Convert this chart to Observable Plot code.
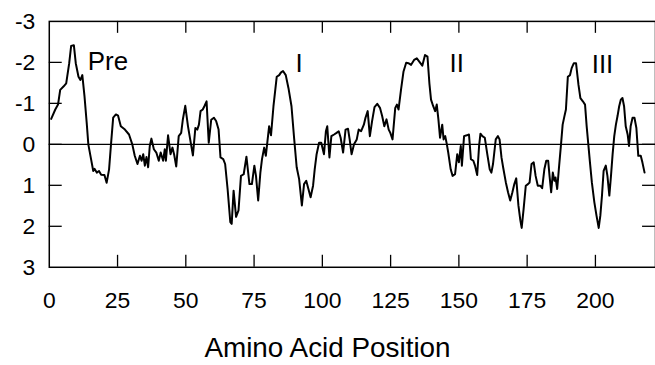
<!DOCTYPE html>
<html><head><meta charset="utf-8">
<script src="https://cdn.jsdelivr.net/npm/d3@7"></script>
<script src="https://cdn.jsdelivr.net/npm/@observablehq/plot@0.6"></script>
<style>
html,body{margin:0;padding:0;background:#fff;overflow:hidden;width:655px;height:365px}
#chart svg{display:block}
</style>
</head><body><div id="chart"></div>
<script>
const positions = [0.7,2.2,3.2,4.0,5.2,6.2,7.3,8.0,9.0,9.7,10.7,11.4,12.1,12.9,13.7,14.3,15.3,16.1,16.6,17.4,18.2,19.0,20.2,21.0,21.9,22.6,23.4,24.4,25.2,26.2,27.7,29.2,30.4,31.3,32.3,33.2,33.8,34.4,35.0,35.6,36.2,36.8,37.4,38.3,39.2,40.1,40.8,41.7,42.3,42.7,43.5,44.4,45.1,45.7,46.5,47.4,48.3,48.9,49.8,50.8,51.6,52.6,53.5,54.2,54.8,55.4,56.2,56.8,57.6,58.4,59.3,60.3,61.1,62.0,62.7,63.7,64.4,65.3,66.3,66.8,67.5,68.4,69.3,70.2,71.2,72.2,73.3,74.2,75.1,75.7,76.5,77.3,77.9,78.7,79.3,79.9,80.5,81.2,82.1,83.3,84.2,84.8,85.6,86.6,87.6,88.7,89.7,90.6,91.5,92.5,93.3,94.1,94.9,95.7,96.6,97.2,97.9,98.8,99.6,100.6,101.3,101.8,102.6,103.3,104.3,105.2,106.0,106.7,107.6,108.5,109.4,110.0,110.7,111.6,112.6,113.3,114.2,115.2,115.8,116.6,117.4,118.2,119.1,120.1,121.1,121.9,122.7,123.5,124.3,124.9,125.7,126.7,127.3,127.9,128.8,129.7,130.7,131.5,132.5,133.6,134.6,135.5,136.6,137.6,138.5,139.2,139.8,140.6,141.3,141.9,142.5,143.1,143.9,144.4,145.0,145.6,146.1,147.0,147.7,148.6,149.4,150.0,150.7,151.1,151.9,152.9,153.7,154.4,155.3,155.9,156.7,157.4,157.9,158.6,159.5,160.4,161.3,161.9,162.5,163.5,164.3,164.9,165.6,166.2,167.2,168.0,168.8,169.6,170.3,171.0,171.8,172.5,173.0,173.7,174.5,175.3,175.9,176.6,177.4,178.1,178.9,179.8,180.5,181.3,182.0,182.7,183.2,183.8,184.4,185.0,185.4,186.0,186.6,187.4,188.0,188.6,189.2,189.9,190.7,191.3,192.1,192.9,193.8,194.5,195.4,196.2,196.8,197.4,198.0,198.7,199.6,200.4,201.2,201.8,202.4,203.0,203.8,204.4,205.1,205.7,206.3,206.9,207.5,208.1,208.7,209.3,209.9,210.5,211.1,211.8,212.3,212.9,213.6,214.3,215.0,215.7,216.6,217.2,218.0];
const hydropathy = [-0.62,-0.85,-0.97,-1.33,-1.41,-1.49,-1.98,-2.40,-2.42,-1.98,-1.65,-1.57,-1.69,-1.17,-0.53,0,0.36,0.65,0.60,0.69,0.65,0.74,0.75,0.94,0.61,0,-0.65,-0.73,-0.70,-0.44,-0.36,-0.24,0,0.28,0.48,0.28,0.40,0.24,0.52,0.31,0.56,0.04,-0.14,0.12,0.20,0.40,0.20,0.40,0.12,0.40,-0.22,0.24,0.08,0.24,0.54,-0.20,-0.28,-0.60,-0.94,-0.44,-0.12,0.27,-0.40,-0.36,-0.48,-0.81,-0.85,-0.93,-1.05,-0.04,-0.60,-0.65,-0.57,-0.36,0.32,0.36,0.48,1.09,1.90,1.94,1.13,1.77,1.61,0.77,0.73,0.30,0.97,0.97,0.52,0.77,1.37,0.69,0.36,0.08,0.28,-0.08,-0.44,-0.22,-0.93,-1.65,-1.69,-1.75,-1.79,-1.69,-1.37,-0.93,-0.12,0.56,0.85,1.49,0.97,0.89,1.09,1.29,1.01,0.61,0.24,-0.04,-0.04,0.24,-0.32,-0.44,0.32,-0.20,-0.24,-0.28,-0.32,-0.16,0.20,-0.36,-0.38,-0.12,0.24,0,-0.12,-0.36,-0.32,-0.48,-0.65,-0.81,-0.20,-0.56,-0.91,-0.99,-0.89,-0.69,-0.44,-0.61,-0.36,-0.28,-0.12,-0.89,-0.97,-0.85,-1.33,-1.77,-1.99,-1.98,-1.94,-2.06,-2.10,-2.02,-1.92,-2.18,-2.14,-1.49,-1.09,-0.93,-0.81,-0.97,-0.61,-0.16,-0.48,-0.12,-0.20,0,0.20,0.61,0.77,0.73,0.24,0.44,0.04,0.52,-0.20,-0.22,-0.24,0.36,0.40,0.52,0.75,0.04,-0.26,-0.20,-0.16,0.24,0.61,0.69,0.48,-0.12,-0.20,-0.12,0.32,0.56,0.93,1.17,1.37,1.17,0.97,0.83,1.49,1.85,2.04,1.58,1.01,0.97,0.93,0.48,0.44,0.77,1.01,1.01,1.07,0.61,0.40,0.40,0.77,1.17,0.69,0.89,0.81,1.09,0.61,0,-0.48,-0.67,-0.85,-1.65,-1.69,-1.86,-1.98,-1.98,-1.45,-1.13,-1.05,-0.97,-0.44,0,0.44,0.93,1.41,1.74,2.04,1.74,1.25,0.65,0.52,0.77,1.25,0.77,0.24,-0.20,-0.48,-0.69,-0.93,-1.09,-1.13,-0.93,-0.44,-0.24,0.04,-0.44,-0.65,-0.65,-0.40,0.28,0.28,0.44,0.69];

const xTickValues = [0, 25, 50, 75, 100, 125, 150, 175, 200];
const xTickLabels = ["0", "25", "50", "75", "100", "125", "150", "175", "200"];
const yTickValues = [-3, -2, -1, 0, 1, 2, 3];
const yTickLabels = ["-3", "-2", "-1", "0", "1", "2", "3"];
const segmentLabels = ["Pre", "I", "II", "III"];
const segmentX = [21.5, 91.5, 149.2, 202.6];
const segmentY = [-1.82, -1.77, -1.77, -1.74];
const axisTitle = ["Amino Acid Position"];

const points = positions.map((p, i) => ({pos: p, h: hydropathy[i]}));
const segs = segmentLabels.map((t, i) => ({t, x: segmentX[i], y: segmentY[i]}));
const innerTicksX = xTickValues.filter(v => v > 0);
const innerTicksY = yTickValues.filter(v => v > -3 && v < 3);
const fmtX = d => xTickLabels[xTickValues.indexOf(d)];
const fmtY = d => yTickLabels[yTickValues.indexOf(d)];

const chart = Plot.plot({
  width: 658,
  height: 365,
  marginLeft: 49,
  marginRight: 0,
  marginTop: 21,
  marginBottom: 97,
  style: {fontFamily: "'Liberation Sans', Arial, sans-serif", background: "#fff", color: "#000", overflow: "visible"},
  x: {domain: [0, 222]},
  y: {domain: [-3, 3], reverse: true},
  marks: [
    Plot.ruleY([0], {stroke: "#000", strokeWidth: 1.3}),
    Plot.tickX(innerTicksX, {x: d => d, insetTop: 235, stroke: "#000", strokeWidth: 1.3}),
    Plot.tickX(innerTicksX, {x: d => d, insetBottom: 235, stroke: "#000", strokeWidth: 1.3}),
    Plot.tickY(innerTicksY, {y: d => d, insetRight: 596, stroke: "#000", strokeWidth: 1.3}),
    Plot.tickY(innerTicksY, {y: d => d, insetLeft: 596, stroke: "#000", strokeWidth: 1.3}),
    Plot.axisX(xTickValues, {tickSize: 0, tickPadding: 25, fontSize: 23, tickFormat: fmtX, label: null, fill: "#000"}),
    Plot.axisY(yTickValues, {tickSize: 0, tickPadding: 14, fontSize: 23, tickFormat: fmtY, label: null, fill: "#000"}),
    Plot.frame({stroke: "#000", strokeWidth: 1.5}),
    Plot.line(points, {x: "pos", y: "h", stroke: "#000", strokeWidth: 2, strokeLinejoin: "round"}),
    Plot.text(segs, {x: "x", y: "y", text: "t", fontSize: 26, lineAnchor: "bottom", textAnchor: "middle", fill: "#000"}),
    Plot.text(axisTitle, {text: d => d, frameAnchor: "bottom", dx: -25, dy: 90, lineAnchor: "bottom", fontSize: 28, fill: "#000"})
  ]
});
document.getElementById("chart").appendChild(chart);
</script>
</body></html>
